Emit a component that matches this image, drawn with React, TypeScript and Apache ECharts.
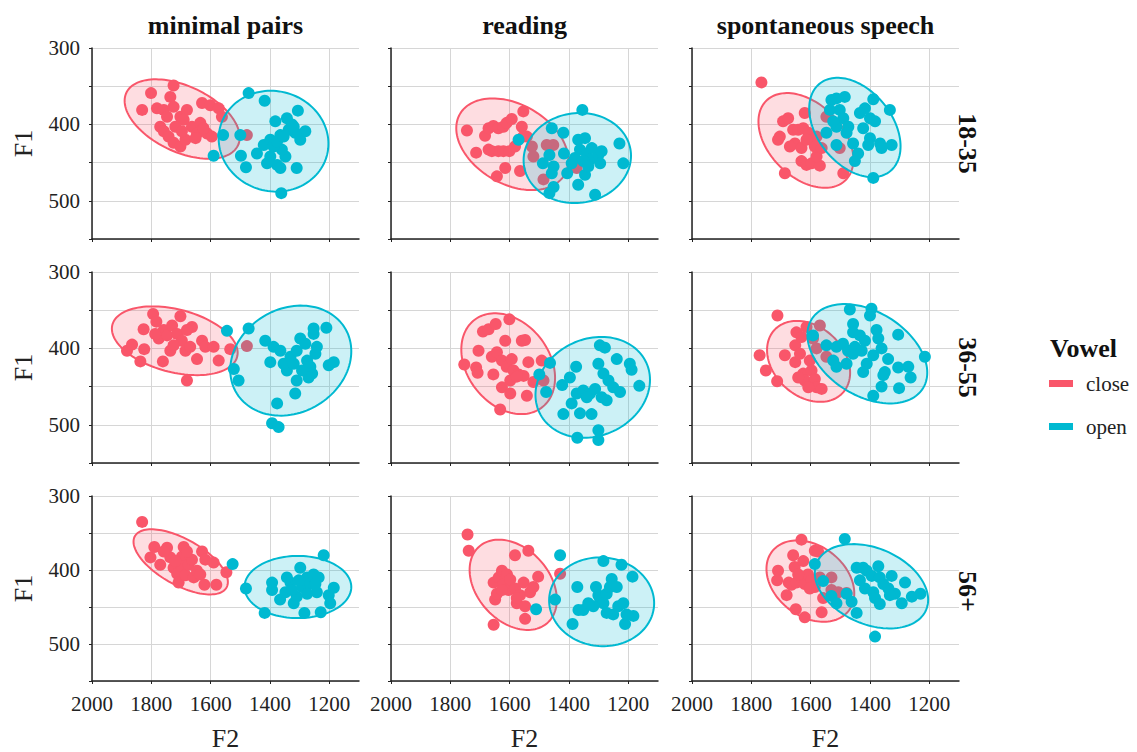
import React, { useEffect, useRef } from "react";
import * as echarts from "echarts";

const groups = ["close", "open"];
const colLabels = ["minimal pairs", "reading", "spontaneous speech"];
const rowLabels = ["18-35", "36-55", "56+"];
const f2Ticks = [1200, 1400, 1600, 1800, 2000];
const f1Ticks = [300, 400, 500];

// points: [F2, F1]
const mp1835Close = [[1831,381],[1801,359],[1725,349],[1736,364],[1781,379],[1758,381],[1747,390],[1770,403],[1758,409],[1742,416],[1725,424],[1702,429],[1685,420],[1702,390],[1680,381],[1691,394],[1663,403],[1646,412],[1635,398],[1629,372],[1601,375],[1573,379],[1562,390],[1612,412],[1596,416],[1624,405],[1719,403],[1725,377],[1478,414],[1697,409],[1651,418]];
const mp1835Open = [[1472,359],[1418,369],[1558,414],[1500,414],[1590,441],[1498,441],[1481,456],[1444,438],[1421,427],[1399,420],[1382,396],[1365,414],[1343,392],[1326,400],[1306,382],[1298,420],[1281,409],[1315,411],[1337,407],[1399,442],[1376,453],[1365,457],[1348,442],[1360,433],[1310,457],[1362,490],[1388,429],[1376,422],[1354,416],[1410,451],[1320,403]];
const rd1835Close = [[1744,408],[1713,437],[1683,415],[1671,405],[1655,402],[1638,405],[1621,403],[1610,398],[1593,393],[1554,383],[1559,403],[1660,435],[1638,435],[1621,435],[1601,435],[1615,457],[1643,468],[1565,461],[1542,416],[1525,429],[1520,442],[1486,472],[1475,427],[1453,427],[1554,416],[1374,457],[1582,429],[1671,433]];
const rd1835Open = [[1355,381],[1458,405],[1419,411],[1570,420],[1466,440],[1488,451],[1452,455],[1458,464],[1452,482],[1466,490],[1417,438],[1406,464],[1369,420],[1346,418],[1363,433],[1340,438],[1329,446],[1301,440],[1290,435],[1295,451],[1380,444],[1352,448],[1346,466],[1369,479],[1312,492],[1230,425],[1217,451],[1323,431],[1391,451],[1335,455]];
const sp1835Close = [[1766,345],[1620,385],[1693,396],[1676,392],[1704,416],[1710,420],[1687,464],[1659,407],[1653,425],[1670,429],[1631,431],[1642,407],[1625,405],[1608,411],[1597,420],[1580,416],[1631,448],[1614,453],[1597,451],[1569,454],[1580,442],[1586,429],[1563,431],[1547,390],[1502,431],[1490,464],[1614,420]];
const sp1835Open = [[1530,368],[1513,366],[1485,364],[1535,381],[1502,381],[1389,367],[1333,381],[1417,379],[1434,385],[1400,392],[1383,396],[1490,392],[1473,403],[1513,403],[1547,411],[1513,427],[1457,425],[1423,405],[1400,418],[1406,427],[1366,425],[1327,427],[1361,431],[1440,438],[1451,448],[1389,470],[1479,411],[1524,396]];

const mp3655Close = [[1882,403],[1865,395],[1837,417],[1824,401],[1826,375],[1794,355],[1783,365],[1775,387],[1758,376],[1761,417],[1747,383],[1736,403],[1730,370],[1702,358],[1713,381],[1697,390],[1685,403],[1669,398],[1663,372],[1680,442],[1646,414],[1629,390],[1618,398],[1590,398],[1573,416],[1534,401],[1478,397],[1787,381],[1725,396],[1680,376]];
const mp3655Open = [[1545,377],[1472,374],[1522,427],[1506,442],[1416,390],[1388,398],[1365,403],[1399,418],[1376,472],[1393,498],[1371,503],[1315,459],[1310,442],[1343,429],[1354,420],[1331,411],[1310,403],[1298,387],[1281,394],[1275,416],[1264,424],[1258,433],[1270,438],[1247,407],[1253,381],[1253,374],[1210,373],[1202,422],[1185,418],[1320,420],[1292,429],[1242,398]];
const rd3655Close = [[1753,421],[1713,425],[1708,432],[1705,403],[1690,378],[1671,375],[1647,368],[1601,362],[1615,390],[1559,390],[1548,389],[1655,434],[1660,411],[1643,405],[1626,416],[1610,424],[1593,414],[1587,429],[1570,434],[1553,436],[1537,418],[1598,442],[1626,451],[1598,459],[1542,462],[1632,480],[1492,416],[1520,444],[1486,442],[1576,437]];
const rd3655Open = [[1464,419],[1500,434],[1477,457],[1423,448],[1419,486],[1397,438],[1391,472],[1376,424],[1363,485],[1372,517],[1324,486],[1301,507],[1301,520],[1374,459],[1352,455],[1329,459],[1312,453],[1301,420],[1296,396],[1279,399],[1284,433],[1267,442],[1251,451],[1239,414],[1228,457],[1195,420],[1189,428],[1163,449],[1290,464],[1273,468],[1340,464]];
const sp3655Close = [[1712,357],[1772,409],[1751,429],[1713,443],[1687,409],[1648,379],[1652,396],[1652,418],[1636,407],[1631,385],[1614,372],[1625,433],[1620,442],[1603,416],[1597,429],[1586,440],[1580,451],[1563,453],[1608,451],[1569,370],[1580,400],[1547,411],[1642,438],[1592,387]];
const sp3655Open = [[1468,349],[1395,348],[1400,357],[1457,368],[1457,379],[1434,383],[1417,390],[1378,376],[1372,387],[1305,382],[1592,383],[1547,396],[1513,398],[1491,394],[1474,403],[1457,407],[1451,398],[1428,403],[1411,420],[1389,409],[1361,400],[1339,414],[1350,431],[1355,435],[1305,425],[1271,424],[1263,438],[1215,411],[1361,450],[1389,462],[1302,452],[1524,416],[1479,420],[1423,431],[1513,424]];

const mp56Close = [[1831,335],[1803,383],[1790,369],[1770,393],[1747,370],[1736,383],[1725,397],[1713,405],[1708,417],[1691,369],[1697,382],[1697,395],[1685,407],[1674,393],[1663,386],[1657,410],[1646,401],[1635,406],[1629,375],[1618,386],[1621,420],[1590,390],[1581,420],[1547,403],[1758,375],[1680,375],[1719,388]];
const mp56Open = [[1526,392],[1481,425],[1418,458],[1393,417],[1393,427],[1366,440],[1348,430],[1331,417],[1320,445],[1310,436],[1298,397],[1292,423],[1284,458],[1275,410],[1264,419],[1253,406],[1242,430],[1236,410],[1229,457],[1219,380],[1202,434],[1197,445],[1185,424],[1343,410],[1326,427],[1303,414],[1275,432],[1247,419]];
const rd56Close = [[1742,352],[1738,374],[1654,474],[1649,440],[1643,432],[1654,417],[1637,410],[1626,401],[1621,419],[1609,406],[1604,427],[1598,413],[1582,380],[1582,425],[1576,445],[1565,434],[1553,417],[1548,449],[1548,466],[1537,374],[1531,430],[1520,423],[1504,409],[1430,405],[1626,427],[1576,438]];
const rd56Open = [[1430,380],[1511,453],[1447,440],[1388,473],[1372,423],[1368,454],[1352,454],[1309,423],[1301,434],[1284,388],[1256,412],[1223,393],[1186,409],[1296,438],[1284,445],[1273,432],[1262,423],[1239,423],[1251,460],[1234,449],[1217,445],[1211,473],[1183,462],[1206,460],[1318,449],[1335,445],[1273,458]];
const sp56Close = [[1631,359],[1710,401],[1713,414],[1681,434],[1650,453],[1620,464],[1563,457],[1659,380],[1654,396],[1625,388],[1586,374],[1575,375],[1674,417],[1665,420],[1648,417],[1631,410],[1620,419],[1609,406],[1597,414],[1586,423],[1603,425],[1569,410],[1558,438],[1530,410],[1530,427],[1507,430],[1479,431],[1642,406]];
const sp56Open = [[1485,358],[1586,392],[1558,415],[1530,435],[1513,445],[1479,432],[1462,443],[1445,458],[1445,397],[1423,397],[1411,401],[1394,408],[1372,395],[1367,410],[1417,425],[1389,430],[1383,438],[1367,446],[1355,419],[1338,425],[1327,408],[1316,432],[1293,445],[1282,417],[1259,436],[1230,432],[1383,490],[1434,414],[1333,434]];

// ellipses: [centre F2, centre F1, half-range F2, half-range F1, correlation]
const ellipse1835Close = [[1696,393,194,52,-0.46],[1591,426,189,60,-0.35],[1616,421,160,62,-0.4]];
const ellipse1835Open = [[1388,422,185,66,-0.05],[1372,444,181,59,0.05],[1451,404,154,65,-0.38]];
const ellipse3655Close = [[1721,390,212,45,-0.35],[1605,420,158,66,-0.28],[1607,417,140,53,-0.28]];
const ellipse3655Open = [[1330,416,204,72,0.17],[1320,451,193,66,0.15],[1409,407,202,65,-0.38]];
const ellipse56Close = [[1701,389,159,44,-0.62],[1588,420,147,61,-0.33],[1601,415,148,55,-0.3]];
const ellipse56Open = [[1306,423,180,42,0.0],[1290,443,177,60,-0.03],[1395,422,191,57,-0.32]];

const pointsClose = [[mp1835Close, rd1835Close, sp1835Close],[mp3655Close, rd3655Close, sp3655Close],[mp56Close, rd56Close, sp56Close]];
const pointsOpen = [[mp1835Open, rd1835Open, sp1835Open],[mp3655Open, rd3655Open, sp3655Open],[mp56Open, rd56Open, sp56Open]];
const ellClose = [ellipse1835Close, ellipse3655Close, ellipse56Close];
const ellOpen = [ellipse1835Open, ellipse3655Open, ellipse56Open];

const FONT = "Liberation Serif";
const RED = "#F9566A";
const BLUE = "#00B9D1";
const RED_FILL = "rgba(249, 86, 106, 0.2)";
const BLUE_FILL = "rgba(0, 185, 209, 0.2)";
const LEFTS = [92, 391, 692];
const TOPS = [48, 272, 496];
const W = 267;
const H = 191;

function ellipseRender(fill: string, stroke: string) {
  return (params: any, api: any) => {
    const cx = api.value(0), cy = api.value(1), hx = api.value(2), hy = api.value(3), rho = api.value(4);
    const phi = Math.acos(rho);
    const pts: number[][] = [];
    const n = 120;
    for (let i = 0; i < n; i++) {
      const t = (i / n) * Math.PI * 2;
      pts.push(api.coord([cx + hx * Math.cos(t), cy + hy * Math.cos(t - phi)]));
    }
    return { type: "polygon", shape: { points: pts }, style: { fill, stroke, lineWidth: 2 } };
  };
}

export default function App() {
  const ref = useRef<HTMLDivElement>(null);
  useEffect(() => {
    if (!ref.current) return;
    const chart = echarts.init(ref.current, undefined, { renderer: "svg" });
    const grid: any[] = [];
    const xAxis: any[] = [];
    const yAxis: any[] = [];
    const series: any[] = [];
    const graphic: any[] = [];
    const tickText = { fontSize: 21, color: "#222", fontFamily: FONT };
    const rich = { s: { fontSize: 21, color: "#222", fontFamily: FONT } };
    for (let r = 0; r < 3; r++) {
      for (let c = 0; c < 3; c++) {
        const idx = r * 3 + c;
        grid.push({ left: LEFTS[c], top: TOPS[r], width: W, height: H });
        xAxis.push({
          gridIndex: idx, type: "value", inverse: true, min: 1100, max: 2000,
          axisLine: { show: true, onZero: false, lineStyle: { color: "#222", width: 1.5 } },
          axisTick: { show: true, length: 3, customValues: f2Ticks, lineStyle: { color: "#222" } },
          axisLabel: {
            show: r === 2, customValues: f2Ticks, margin: 12, ...tickText, rich,
            formatter: (v: number) => (f2Ticks.includes(v) ? "{s|" + v + "}" : ""),
          },
          splitLine: { show: true, lineStyle: { color: "#d6d6d6", width: 1 } },
          name: r === 2 ? "F2" : "", nameLocation: "middle", nameGap: 44,
          nameTextStyle: { fontSize: 26, color: "#222", fontFamily: FONT },
        });
        yAxis.push({
          gridIndex: idx, type: "value", inverse: true, min: 300, max: 550, interval: 50,
          axisLine: { show: true, onZero: false, lineStyle: { color: "#222", width: 1.5 } },
          axisTick: { show: true, length: 3, lineStyle: { color: "#222" } },
          axisLabel: {
            show: c === 0, margin: 12, ...tickText, rich,
            formatter: (v: number) => (f1Ticks.includes(v) ? "{s|" + v + "}" : ""),
          },
          splitLine: { show: true, lineStyle: { color: "#d6d6d6", width: 1 } },
          name: c === 0 ? "F1" : "", nameLocation: "middle", nameGap: 56, nameRotate: 90,
          nameTextStyle: { fontSize: 26, color: "#222", fontFamily: FONT },
        });
        series.push({
          type: "custom", name: "close ellipse", xAxisIndex: idx, yAxisIndex: idx, z: 2,
          renderItem: ellipseRender(RED_FILL, RED), data: [ellClose[r][c]], encode: { x: 0, y: 1 }, silent: true,
        });
        series.push({
          type: "scatter", name: groups[0], xAxisIndex: idx, yAxisIndex: idx, z: 3,
          symbolSize: 12, itemStyle: { color: RED, opacity: 1 }, data: pointsClose[r][c],
        });
        series.push({
          type: "custom", name: "open ellipse", xAxisIndex: idx, yAxisIndex: idx, z: 4,
          renderItem: ellipseRender(BLUE_FILL, BLUE), data: [ellOpen[r][c]], encode: { x: 0, y: 1 }, silent: true,
        });
        series.push({
          type: "scatter", name: groups[1], xAxisIndex: idx, yAxisIndex: idx, z: 5,
          symbolSize: 12, itemStyle: { color: BLUE, opacity: 1 }, data: pointsOpen[r][c],
        });
      }
    }
    for (let c = 0; c < 3; c++) {
      graphic.push({
        type: "text", x: LEFTS[c] + W / 2, y: 25,
        style: { text: colLabels[c], fontSize: 26, fontWeight: "bold", fontFamily: FONT, fill: "#111", align: "center", verticalAlign: "middle" },
      });
    }
    for (let r = 0; r < 3; r++) {
      graphic.push({
        type: "text", x: 967, y: TOPS[r] + H / 2, rotation: -Math.PI / 2,
        style: { text: rowLabels[r], fontSize: 26, fontWeight: "bold", fontFamily: FONT, fill: "#111", align: "center", verticalAlign: "middle" },
      });
    }
    graphic.push({
      type: "text", x: 1050, y: 348,
      style: { text: "Vowel", fontSize: 26, fontWeight: "bold", fontFamily: FONT, fill: "#111", align: "left", verticalAlign: "middle" },
    });
    chart.setOption({
      animation: false,
      backgroundColor: "#fff",
      textStyle: { fontFamily: FONT },
      grid, xAxis, yAxis, series, graphic,
      legend: {
        data: groups, orient: "vertical", left: 1049, top: 373, padding: 0,
        itemWidth: 24, itemHeight: 7, icon: "rect", itemGap: 22,
        textStyle: { fontSize: 21, fontFamily: FONT, color: "#222", padding: [0, 0, 0, 8] },
        selectedMode: false,
      },
    });
    return () => chart.dispose();
  }, []);
  return <div ref={ref} style={{ position: "fixed", left: 0, top: 0, width: 1137, height: 752 }} />;
}
